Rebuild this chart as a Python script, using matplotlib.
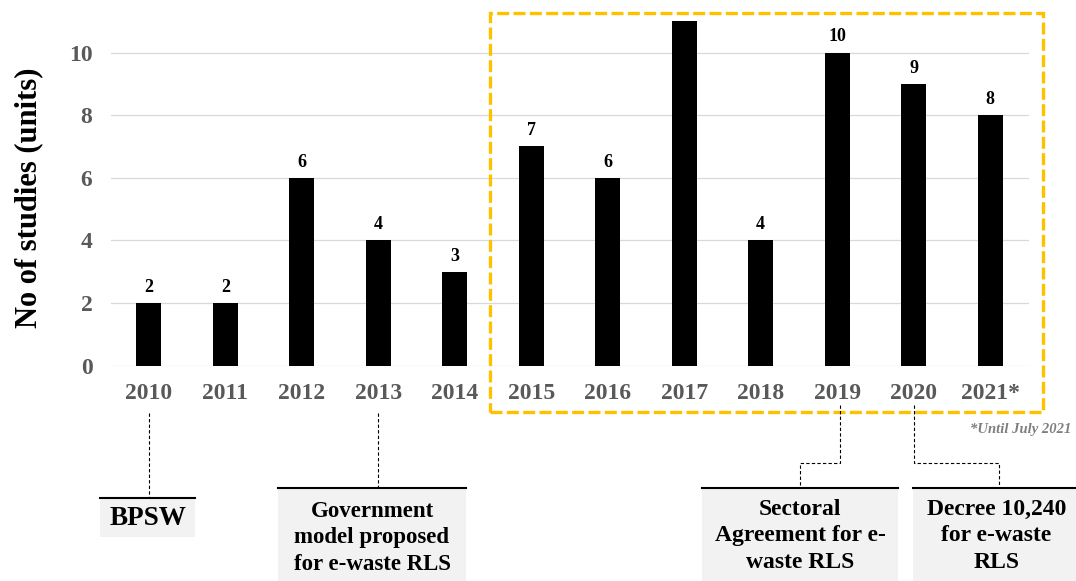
import matplotlib
matplotlib.use("Agg")
import matplotlib.pyplot as plt
from matplotlib.patches import Rectangle
from matplotlib.transforms import blended_transform_factory

years = ["2010", "2011", "2012", "2013", "2014", "2015", "2016", "2017",
         "2018", "2019", "2020", "2021*"]
studies = [2, 2, 6, 4, 3, 7, 6, 11, 4, 10, 9, 8]
show_label = [True, True, True, True, True, True, True, False, True, True, True, True]
yticks = [0, 2, 4, 6, 8, 10]
ylabel = "No of studies (units)"
footnote = "*Until July 2021"
events = ["BPSW", "Government\nmodel proposed\nfor e-waste RLS",
          "Sectoral\nAgreement for e-\nwaste RLS", "Decree 10,240\nfor e-waste\nRLS"]
event_year_idx = [0, 3, 9, 10]

plt.rcParams['font.family'] = ['Liberation Serif', 'DejaVu Serif']
W, H = 1076, 581
fig = plt.figure(figsize=(W / 100, H / 100), dpi=100)

def fx(px):
    return px / W

def fy(py):
    return 1 - py / H

ax_left, ax_right = 110.5, 1028.5
y0_px, unit_px = 365.5, 31.3
ymax = 11.4
ax_top = y0_px - ymax * unit_px
ax = fig.add_axes([fx(ax_left), fy(y0_px), fx(ax_right - ax_left), (y0_px - ax_top) / H])

x = list(range(len(years)))
ax.bar(x, studies, width=0.33, color="black", zorder=3)
ax.set_xlim(-0.5, len(years) - 0.5)
ax.set_ylim(0, ymax)
ax.set_yticks(yticks)
ax.set_xticks(x)
ax.set_xticklabels(years)
for s in ax.spines.values():
    s.set_visible(False)
ax.tick_params(axis="both", length=0, labelsize=17, labelcolor="#595959")
ax.tick_params(axis="y", pad=13)
ax.tick_params(axis="x", pad=12.5)
for lab in ax.get_xticklabels() + ax.get_yticklabels():
    lab.set_fontweight("bold")
ax.grid(axis="y", color="#d9d9d9", lw=0.9, zorder=0)
ax.set_axisbelow(True)

for xi, v, sh in zip(x, studies, show_label):
    if sh:
        ax.annotate(str(v), (xi, v), xytext=(0, 11.2), textcoords="offset points",
                    ha="center", va="center", fontsize=13, fontweight="bold", color="black")

fig.text(fx(28.5), fy(198), ylabel, rotation=90, ha="center", va="center",
         fontsize=22, fontweight="bold", color="black")

# orange dashed box
fig.add_artist(Rectangle((fx(490), fy(412)), fx(1043 - 490), (412 - 13) / H,
                         transform=fig.transFigure, fill=False, edgecolor="#FFC000",
                         lw=2.4, linestyle=(0, (3.6, 1.3))))

fig.text(fx(1071), fy(430), footnote, ha="right", va="center", fontsize=10.5,
         fontstyle="italic", fontweight="bold", color="#7f7f7f")

# event boxes: (left, right, top, bottom, fontsize, text top offset) in pixels
boxes = [(100, 195, 498, 537, 19.5, 8), (278, 466, 488, 590, 16.5, 13),
         (702, 898, 488, 590, 17, 11), (913, 1080, 488, 590, 17, 11)]
tr = blended_transform_factory(ax.transData, fig.transFigure)

def dline(xs, ys, transform):
    fig.add_artist(plt.Line2D(xs, ys, transform=transform, color="black", lw=0.8,
                              linestyle=(0, (3, 2))))

for (l, r, t, b, fs, off), txt, idx in zip(boxes, events, event_year_idx):
    fig.add_artist(Rectangle((fx(l), fy(b)), fx(r - l), (b - t) / H, transform=fig.transFigure,
                             facecolor="#f2f2f2", edgecolor="none"))
    fig.add_artist(plt.Line2D([fx(l), fx(r)], [fy(t), fy(t)], transform=fig.transFigure,
                              color="black", lw=1.5))
    cx = (l + r) / 2
    fig.text(fx(cx), fy(t + off), txt, ha="center", va="top", fontsize=fs,
             fontweight="bold", color="black", linespacing=1.33)

# connectors
dline([0, 0], [fy(413), fy(498)], tr)
dline([3, 3], [fy(413), fy(488)], tr)
xd = ax.transData.transform((9, 0))[0]
dline([fx(xd + 3), fx(xd + 3), fx(800), fx(800)], [fy(405), fy(463), fy(463), fy(488)], fig.transFigure)
xd2 = ax.transData.transform((10, 0))[0]
dline([fx(xd2), fx(xd2), fx(999), fx(999)], [fy(405), fy(463), fy(463), fy(488)], fig.transFigure)

fig.savefig("out.png", dpi=100)
